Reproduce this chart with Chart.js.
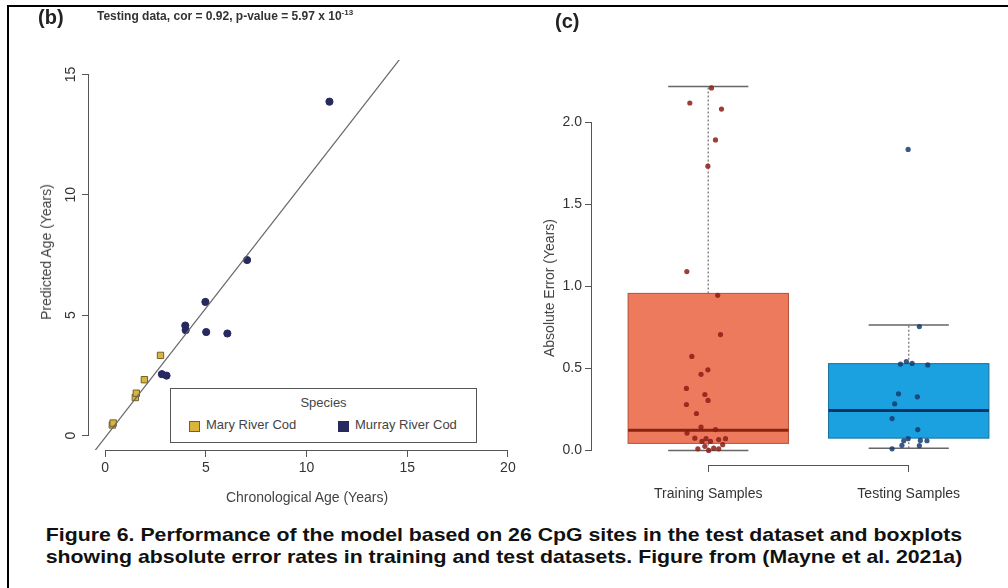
<!DOCTYPE html>
<html>
<head>
<meta charset="utf-8">
<script src="https://cdn.jsdelivr.net/npm/chart.js@4.4.1/dist/chart.umd.min.js"></script>
<style>
  html, body { margin: 0; padding: 0; background: #fff; overflow: hidden; }
  body { width: 1008px; height: 588px; position: relative; font-family: "Liberation Sans", Arial, sans-serif; color: #333; }
  .frame { position: absolute; left: 7px; top: 5px; width: 1100px; height: 700px; border-left: 2px solid #000; border-top: 2px solid #000; }
  .abs { position: absolute; white-space: nowrap; }
  canvas { position: absolute; }
  #ageChart { left: 0; top: 0; }
  #errChart { left: 540px; top: 0; }
  .panel { font-weight: bold; font-size: 20px; line-height: 20px; color: #222; }
  .title { font-weight: bold; font-size: 12px; color: #333; }
  .title sup { font-size: 8px; }
  .axt { font-size: 14px; color: #444; }
  .rot { transform: translate(-50%, -50%) rotate(-90deg); }
  .legend { position: absolute; left: 170px; top: 388px; width: 305px; height: 53px; border: 1px solid #555; background: #fff; font-size: 13px; color: #444; }
  .sw { position: absolute; width: 9px; height: 9px; top: 32px; }
  .caption { position: absolute; left: 0; top: 524px; width: 1008px; text-align: center; font-weight: bold; font-size: 19px; line-height: 22px; color: #111; transform: scaleX(1.12); transform-origin: 504px 0; }
</style>
</head>
<body>
<div class="frame"></div>
<canvas id="ageChart" width="540" height="520"></canvas>
<canvas id="errChart" width="500" height="520"></canvas>

<div class="abs panel" style="left:38px; top:7px;">(b)</div>
<div class="abs title" style="left:97px; top:8px;">Testing data, cor = 0.92, p-value = 5.97 x 10<sup>-13</sup></div>
<div class="abs panel" style="left:555px; top:11px;">(c)</div>

<div class="abs axt rot" style="left:46px; top:252px;">Predicted Age (Years)</div>
<div class="abs axt" style="left:307px; top:497px; transform: translate(-50%, -50%);">Chronological Age (Years)</div>
<div class="abs axt rot" style="left:549px; top:288px;">Absolute Error (Years)</div>

<div class="legend">
  <div class="abs" style="left:0; width:305px; top:6px; text-align:center;">Species</div>
  <div class="sw" style="left:18px; background:#dcb43c; border:1px solid #6e6330;"></div>
  <div class="abs" style="left:35px; top:28px;">Mary River Cod</div>
  <div class="sw" style="left:167px; background:#262a5e; border:1px solid #262a5e;"></div>
  <div class="abs" style="left:184px; top:28px;">Murray River Cod</div>
</div>

<div class="caption">Figure 6. Performance of the model based on 26 CpG sites in the test dataset and boxplots<br>showing absolute error rates in training and test datasets. Figure from (Mayne et al. 2021a)</div>

<script>
// ---- panel (b): chronological vs predicted age ----
var ageTicksX = [0, 5, 10, 15, 20];
var ageTicksY = [0, 5, 10, 15];
var maryChron = [0.36, 0.40, 1.50, 1.55, 1.95, 2.75];
var maryPred  = [0.44, 0.52, 1.58, 1.76, 2.32, 3.33];
var murrayChron = [2.82, 3.05, 3.98, 4.00, 4.98, 5.02, 6.07, 7.05, 11.14];
var murrayPred  = [2.55, 2.49, 4.57, 4.38, 5.55, 4.30, 4.24, 7.29, 13.87];
var fitChron = [-0.9, 15.0];
var fitPred  = [-1.05, 16.03];

// ---- panel (c): absolute error boxplots ----
var groups = ['Training Samples', 'Testing Samples'];
var boxLow    = [0.00, 0.014];
var boxQ1     = [0.043, 0.075];
var boxMedian = [0.123, 0.243];
var boxQ3     = [0.957, 0.529];
var boxHigh   = [2.217, 0.765];
var errTicksY = [0, 0.5, 1.0, 1.5, 2.0];
var trainJitter = [1.016, 0.908, 1.066, 1.036, 0.998, 0.893, 1.047, 1.061, 0.918, 0.998, 0.964, 0.891, 0.983, 0.999, 0.891, 0.941, 0.964,
                   0.894, 0.933, 0.989, 1.036, 1.011, 1.052, 1.086, 0.983, 1.027, 1.002, 1.052, 0.948, 1.072, 0.969];
var trainErr    = [2.209, 2.117, 2.080, 1.892, 1.732, 1.090, 0.945, 0.706, 0.573, 0.491, 0.464, 0.378, 0.341, 0.305, 0.280, 0.225, 0.143,
                   0.106, 0.075, 0.072, 0.127, 0.055, 0.066, 0.072, 0.025, 0.014, 0.000, 0.010, 0.010, 0.035, 0.055];
var testJitter  = [1.997, 2.053, 1.988, 1.959, 2.017, 2.095, 1.949, 2.043, 1.930, 1.917, 2.045, 1.997, 2.058, 2.091, 1.975, 1.966, 2.053, 1.917];
var testErr     = [1.834, 0.755, 0.542, 0.526, 0.530, 0.521, 0.345, 0.327, 0.284, 0.194, 0.127, 0.072, 0.061, 0.059, 0.059, 0.031, 0.029, 0.010];

var FONT = 'Liberation Sans, Arial, sans-serif';

function pts(xs, ys) {
    return xs.map(function(x, i) { return {x: x, y: ys[i]}; });
}

function fixTicks(values) {
    return function(scale) {
        scale.ticks = values.map(function(v) { return {value: v}; });
    };
}

// R style axis line: only from first to last tick, on the plot edge
var rAxisLines = {
    id: 'rAxisLines',
    afterDraw: function(chart) {
        var ctx = chart.ctx, area = chart.chartArea;
        var xs = chart.scales.x, ys = chart.scales.y;
        ctx.save();
        ctx.strokeStyle = '#555';
        ctx.lineWidth = 1;
        ctx.beginPath();
        ctx.moveTo(xs.getPixelForValue(xs.ticks[0].value), area.bottom + 0.5);
        ctx.lineTo(xs.getPixelForValue(xs.ticks[xs.ticks.length - 1].value), area.bottom + 0.5);
        ctx.moveTo(area.left - 0.5, ys.getPixelForValue(ys.ticks[0].value));
        ctx.lineTo(area.left - 0.5, ys.getPixelForValue(ys.ticks[ys.ticks.length - 1].value));
        ctx.stroke();
        ctx.restore();
    }
};

function axisOpts(extra) {
    var base = {
        type: 'linear',
        border: { display: false },
        grid: { drawOnChartArea: false, drawTicks: true, tickLength: 7, color: '#555', lineWidth: 1 },
        ticks: { color: '#333', font: { family: FONT, size: 14 }, padding: 3 }
    };
    for (var k in extra) {
        if (k === 'ticks') {
            for (var t in extra.ticks) base.ticks[t] = extra.ticks[t];
        } else {
            base[k] = extra[k];
        }
    }
    return base;
}

// 1. Scatter: predicted vs chronological age
new Chart(document.getElementById('ageChart'), {
    type: 'scatter',
    data: {
        datasets: [
            {
                label: 'fit',
                data: pts(fitChron, fitPred),
                showLine: true,
                borderColor: '#666',
                borderWidth: 1.2,
                pointRadius: 0
            },
            {
                label: 'Mary River Cod',
                data: pts(maryChron, maryPred),
                pointStyle: 'rect',
                pointRadius: 4.5,
                backgroundColor: '#dcb43c',
                borderColor: '#6e6330',
                borderWidth: 1
            },
            {
                label: 'Murray River Cod',
                data: pts(murrayChron, murrayPred),
                pointRadius: 3.6,
                backgroundColor: '#262a5e',
                borderColor: '#262a5e',
                borderWidth: 1
            }
        ]
    },
    options: {
        responsive: false,
        animation: false,
        layout: { padding: { left: 49, top: 60, right: 16, bottom: 20 } },
        plugins: { legend: { display: false }, tooltip: { enabled: false } },
        scales: {
            x: axisOpts({
                min: -0.8, max: 20.8,
                afterBuildTicks: fixTicks(ageTicksX),
                afterFit: function(s) { s.height = 50; },
                ticks: { maxRotation: 0 }
            }),
            y: axisOpts({
                min: -0.6, max: 15.6,
                afterBuildTicks: fixTicks(ageTicksY),
                afterFit: function(s) { s.width = 40; },
                ticks: { minRotation: 90, maxRotation: 90, crossAlign: 'center' }
            })
        }
    },
    plugins: [rAxisLines]
});

// 2. Boxplots of absolute error
var boxFill = ['#ee7a5e', '#1ba0e0'];
var boxEdge = ['#b4523a', '#17709e'];
var medianColor = ['#8a2410', '#0b3560'];

var boxPlots = {
    id: 'boxPlots',
    beforeDatasetsDraw: function(chart) {
        var ctx = chart.ctx, xs = chart.scales.x, ys = chart.scales.y;
        ctx.save();
        groups.forEach(function(g, i) {
            var c = i + 1;
            var xc = xs.getPixelForValue(c);
            var xl = xs.getPixelForValue(c - 0.4), xr = xs.getPixelForValue(c + 0.4);
            var cl = xs.getPixelForValue(c - 0.2), cr = xs.getPixelForValue(c + 0.2);
            var yLo = ys.getPixelForValue(boxLow[i]), yQ1 = ys.getPixelForValue(boxQ1[i]);
            var yMed = ys.getPixelForValue(boxMedian[i]);
            var yQ3 = ys.getPixelForValue(boxQ3[i]), yHi = ys.getPixelForValue(boxHigh[i]);

            // whiskers
            ctx.strokeStyle = '#888';
            ctx.lineWidth = 1.5;
            ctx.setLineDash([2, 2]);
            ctx.beginPath();
            ctx.moveTo(xc, yQ3); ctx.lineTo(xc, yHi);
            ctx.moveTo(xc, yQ1); ctx.lineTo(xc, yLo);
            ctx.stroke();
            ctx.setLineDash([]);
            ctx.strokeStyle = '#666';
            ctx.lineWidth = 1.5;
            ctx.beginPath();
            ctx.moveTo(cl, yHi); ctx.lineTo(cr, yHi);
            ctx.moveTo(cl, yLo); ctx.lineTo(cr, yLo);
            ctx.stroke();

            // box
            ctx.fillStyle = boxFill[i];
            ctx.fillRect(xl, yQ3, xr - xl, yQ1 - yQ3);
            ctx.strokeStyle = boxEdge[i];
            ctx.lineWidth = 1;
            ctx.strokeRect(xl, yQ3, xr - xl, yQ1 - yQ3);

            // median
            ctx.strokeStyle = medianColor[i];
            ctx.lineWidth = 3;
            ctx.beginPath();
            ctx.moveTo(xl, yMed); ctx.lineTo(xr, yMed);
            ctx.stroke();
        });
        ctx.restore();
    }
};

new Chart(document.getElementById('errChart'), {
    type: 'scatter',
    data: {
        datasets: [
            {
                label: 'Training',
                data: pts(trainJitter, trainErr),
                pointRadius: 2.6,
                backgroundColor: 'rgba(140, 28, 22, 0.85)',
                borderColor: 'rgba(140, 28, 22, 0.85)',
                borderWidth: 0
            },
            {
                label: 'Testing',
                data: pts(testJitter, testErr),
                pointRadius: 2.6,
                backgroundColor: 'rgba(22, 60, 110, 0.85)',
                borderColor: 'rgba(22, 60, 110, 0.85)',
                borderWidth: 0
            }
        ]
    },
    options: {
        responsive: false,
        animation: false,
        layout: { padding: { left: 12, top: 72, right: 15, bottom: 15 } },
        plugins: { legend: { display: false }, tooltip: { enabled: false } },
        scales: {
            x: axisOpts({
                min: 0.42, max: 2.58,
                afterBuildTicks: fixTicks([1, 2]),
                afterFit: function(s) { s.height = 40; },
                ticks: {
                    maxRotation: 0,
                    padding: 14,
                    font: { family: FONT, size: 14 },
                    callback: function(v) { return groups[v - 1]; }
                }
            }),
            y: axisOpts({
                min: -0.0887, max: 2.306,
                afterBuildTicks: fixTicks(errTicksY),
                afterFit: function(s) { s.width = 40; },
                ticks: { callback: function(v) { return v.toFixed(1); } }
            })
        }
    },
    plugins: [boxPlots, rAxisLines]
});
</script>
</body>
</html>
